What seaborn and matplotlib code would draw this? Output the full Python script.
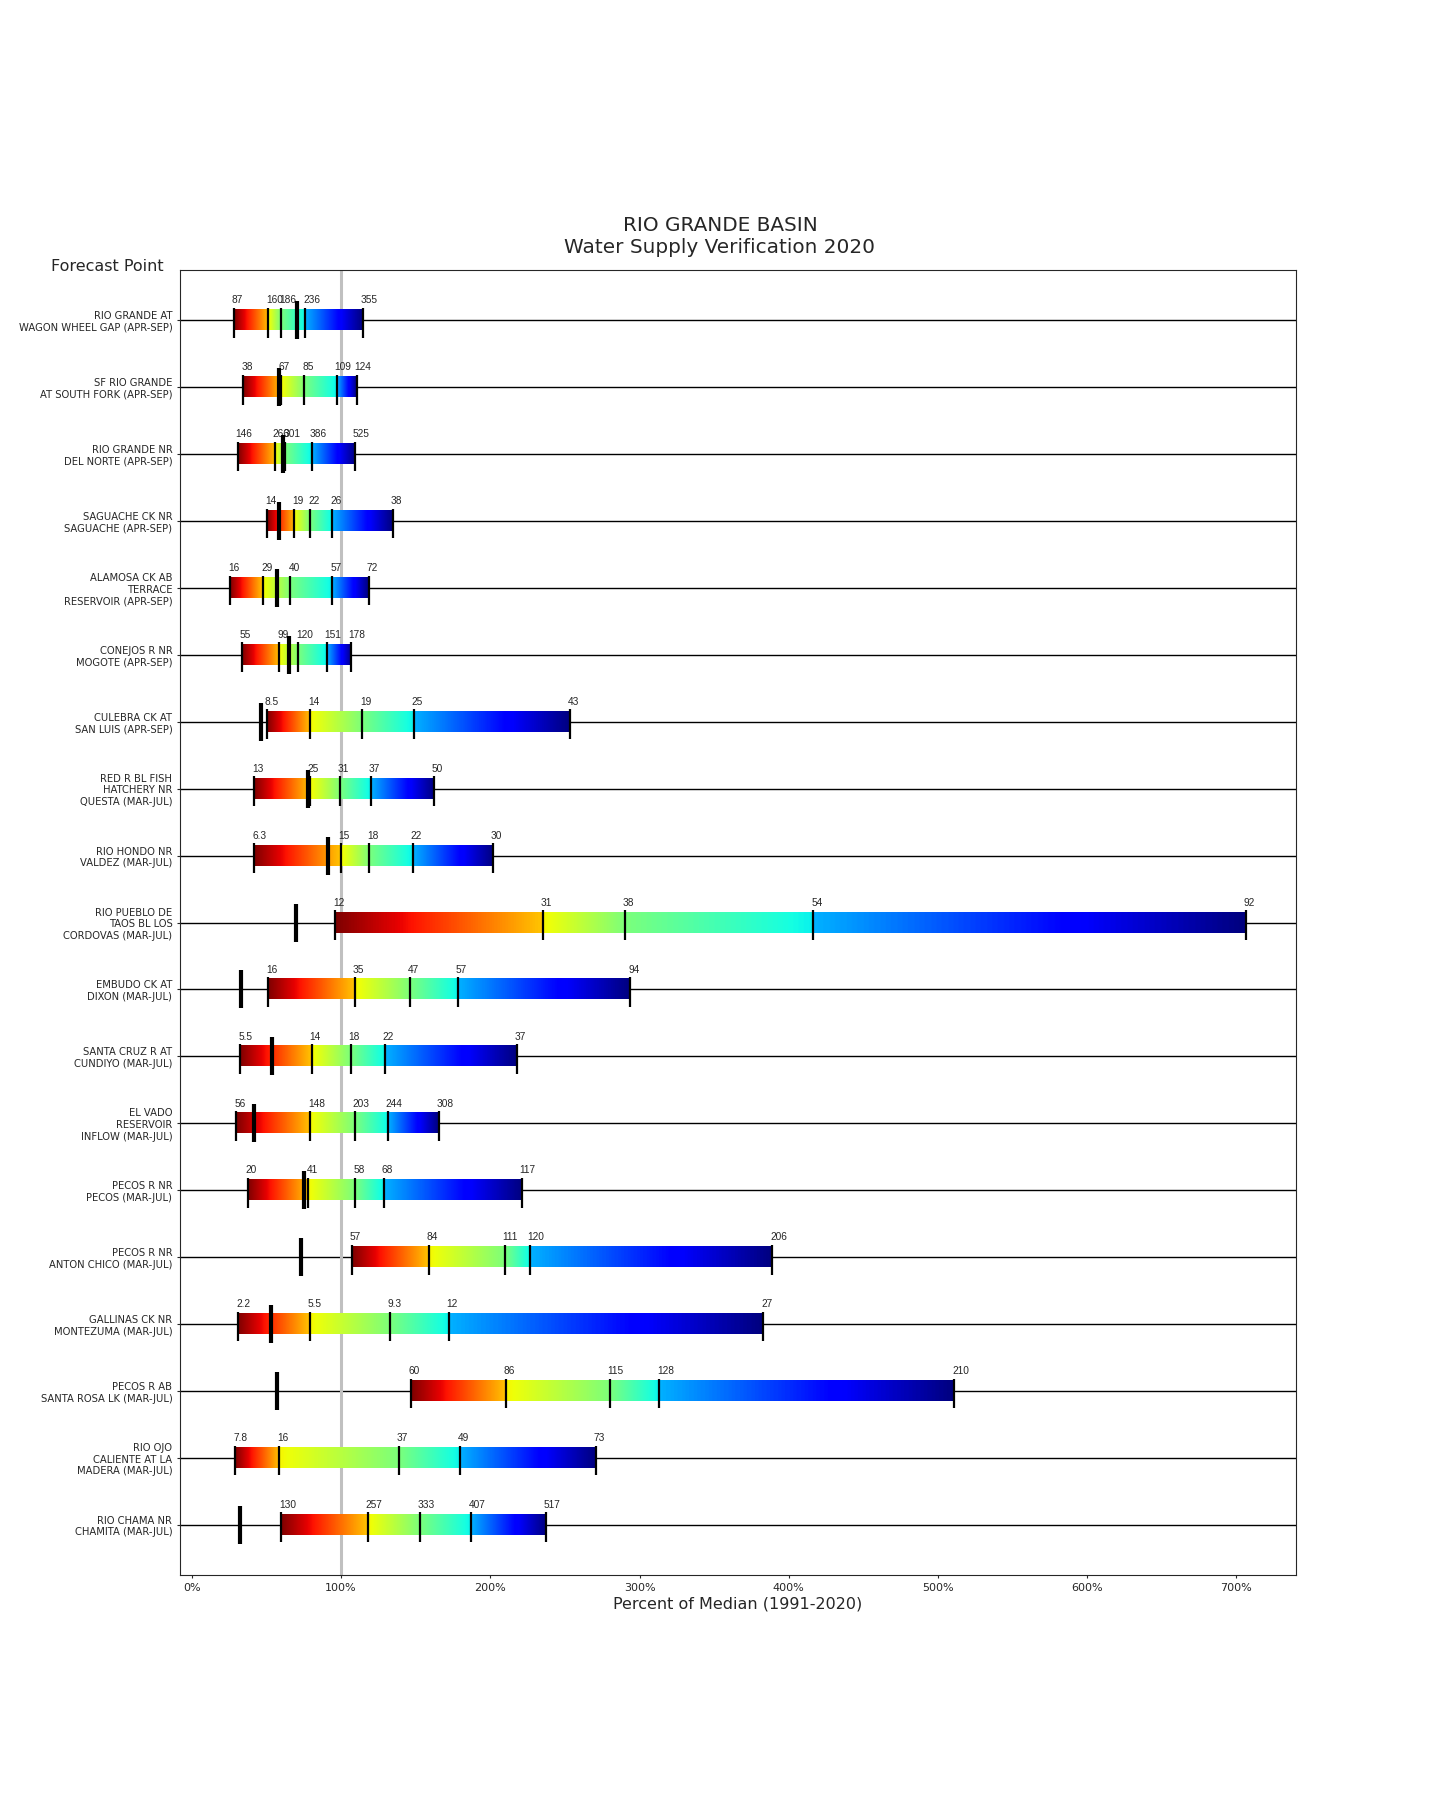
import matplotlib
matplotlib.use('Agg')
import matplotlib.pyplot as plt
import numpy as np
import pandas as pd
import seaborn as sns

### Chart values
# forecast points, top to bottom
points = [
    'RIO GRANDE AT\nWAGON WHEEL GAP (APR-SEP)',
    'SF RIO GRANDE\nAT SOUTH FORK (APR-SEP)',
    'RIO GRANDE NR\nDEL NORTE (APR-SEP)',
    'SAGUACHE CK NR\nSAGUACHE (APR-SEP)',
    'ALAMOSA CK AB\nTERRACE\nRESERVOIR (APR-SEP)',
    'CONEJOS R NR\nMOGOTE (APR-SEP)',
    'CULEBRA CK AT\nSAN LUIS (APR-SEP)',
    'RED R BL FISH\nHATCHERY NR\nQUESTA (MAR-JUL)',
    'RIO HONDO NR\nVALDEZ (MAR-JUL)',
    'RIO PUEBLO DE\nTAOS BL LOS\nCORDOVAS (MAR-JUL)',
    'EMBUDO CK AT\nDIXON (MAR-JUL)',
    'SANTA CRUZ R AT\nCUNDIYO (MAR-JUL)',
    'EL VADO\nRESERVOIR\nINFLOW (MAR-JUL)',
    'PECOS R NR\nPECOS (MAR-JUL)',
    'PECOS R NR\nANTON CHICO (MAR-JUL)',
    'GALLINAS CK NR\nMONTEZUMA (MAR-JUL)',
    'PECOS R AB\nSANTA ROSA LK (MAR-JUL)',
    'RIO OJO\nCALIENTE AT LA\nMADERA (MAR-JUL)',
    'RIO CHAMA NR\nCHAMITA (MAR-JUL)',
]

# 90/70/50/30/10 % exceedance forecasts, percent of median
exceed_pct = [
    [28.0, 51.3, 60.0, 76.1, 114.6],
    [34.5, 59.6, 75.4, 96.9, 110.3],
    [30.6, 55.5, 62.6, 80.3, 109.3],
    [50.6, 68.7, 79.4, 94.2, 134.5],
    [25.8, 47.9, 66.0, 94.2, 118.6],
    [33.4, 58.6, 71.4, 90.2, 106.3],
    [50.1, 79.4, 114.3, 148.6, 253.3],
    [41.9, 78.8, 99.1, 119.7, 162.2],
    [41.9, 99.8, 119.0, 147.9, 201.6],
    [96.2, 235.1, 290.2, 416.4, 706.4],
    [51.3, 109.0, 145.9, 178.1, 293.8],
    [32.5, 80.3, 106.3, 129.1, 217.9],
    [29.8, 79.4, 109.0, 131.3, 165.3],
    [37.4, 78.1, 109.6, 128.4, 221.1],
    [107.0, 158.6, 209.6, 226.4, 388.9],
    [31.1, 78.8, 132.5, 172.1, 383.0],
    [146.6, 210.3, 280.1, 313.0, 511.0],
    [29.1, 58.6, 138.5, 179.4, 270.7],
    [60.0, 117.9, 152.6, 187.0, 237.4],
]

# the same forecasts in KAF, as printed over the markers
exceed_lbl = [
    ['87', '160', '186', '236', '355'],
    ['38', '67', '85', '109', '124'],
    ['146', '266', '301', '386', '525'],
    ['14', '19', '22', '26', '38'],
    ['16', '29', '40', '57', '72'],
    ['55', '99', '120', '151', '178'],
    ['8.5', '14', '19', '25', '43'],
    ['13', '25', '31', '37', '50'],
    ['6.3', '15', '18', '22', '30'],
    ['12', '31', '38', '54', '92'],
    ['16', '35', '47', '57', '94'],
    ['5.5', '14', '18', '22', '37'],
    ['56', '148', '203', '244', '308'],
    ['20', '41', '58', '68', '117'],
    ['57', '84', '111', '120', '206'],
    ['2.2', '5.5', '9.3', '12', '27'],
    ['60', '86', '115', '128', '210'],
    ['7.8', '16', '37', '49', '73'],
    ['130', '257', '333', '407', '517'],
]

# observed volume, percent of median (no observation for Rio Ojo)
observed_pct = [70.7, 58.6, 61.3, 58.6, 57.3, 65.3, 46.6, 78.1, 90.9, 70.0,
                33.1, 53.9, 41.9, 75.4, 73.4, 53.3, 57.3, np.nan, 32.5]

xtick_vals = [0, 100, 200, 300, 400, 500, 600, 700]

# part of jet_r used by each of the four forecast ranges
seg_cmap = [(0.0, 0.3), (0.35, 0.5), (0.5, 0.64), (0.7, 1.0)]


def plot_verification():
    sns.set_style('ticks')
    plt.rcParams['font.family'] = ['DejaVu Sans']

    fig, ax = plt.subplots(figsize=(14.4, 18), dpi=100)
    fig.subplots_adjust(left=0.125, right=0.9, bottom=0.125, top=0.85)

    rows = np.arange(len(points))
    ax.hlines(rows, -50, 800, color='black', lw=1.0, zorder=1)
    ax.axvline(100, color='silver', lw=2.2, zorder=2)

    # narrow digits like the original labels
    narrow = ['Liberation Sans Narrow', 'Liberation Sans', 'DejaVu Sans']
    for i, (vals, lbls) in enumerate(zip(exceed_pct, exceed_lbl)):
        for k, (c0, c1) in enumerate(seg_cmap):
            grad = np.linspace(c0, c1, 256)[None, :]
            ax.imshow(grad, cmap='jet_r', vmin=0, vmax=1, aspect='auto',
                      interpolation='bilinear', zorder=3,
                      extent=(vals[k], vals[k + 1], i + 0.15, i - 0.15))
        ax.vlines(vals, i - 0.185, i + 0.26, color='black', lw=1.6, zorder=4)
        for v, t in zip(vals, lbls):
            ax.text(v - 1.4, i - 0.25, t, ha='left', va='baseline',
                    fontsize=7.3, family=narrow, fontstretch='condensed',
                    color='.15', zorder=5)

    obs = pd.DataFrame({'pct': observed_pct, 'row': rows})
    sns.scatterplot(data=obs, x='pct', y='row', marker='|', s=750,
                    color='black', linewidth=3, zorder=6, ax=ax)

    ax.set_xlim(-8, 740)
    ax.set_ylim(18.75, -0.75)
    ax.set_xticks(xtick_vals)
    ax.set_xticklabels([f'{t}%' for t in xtick_vals])
    ax.set_yticks(rows)
    ax.set_yticklabels(points)
    ax.tick_params(axis='x', labelsize=8, length=2)
    ax.tick_params(axis='y', labelsize=7.2, length=2)
    ax.set_xlabel('Percent of Median (1991-2020)', fontsize=11.5, labelpad=2.5)
    ax.set_ylabel('')

    ax.text(-0.065, 0.999, 'Forecast Point', transform=ax.transAxes,
            ha='center', va='baseline', fontsize=11.5)
    fig.text(0.5, 0.857, 'RIO GRANDE BASIN\nWater Supply Verification 2020',
             ha='center', va='bottom', fontsize=14.4)

    plt.savefig('out.png', dpi=100)
    plt.close()


if __name__ == '__main__':
    plot_verification()
